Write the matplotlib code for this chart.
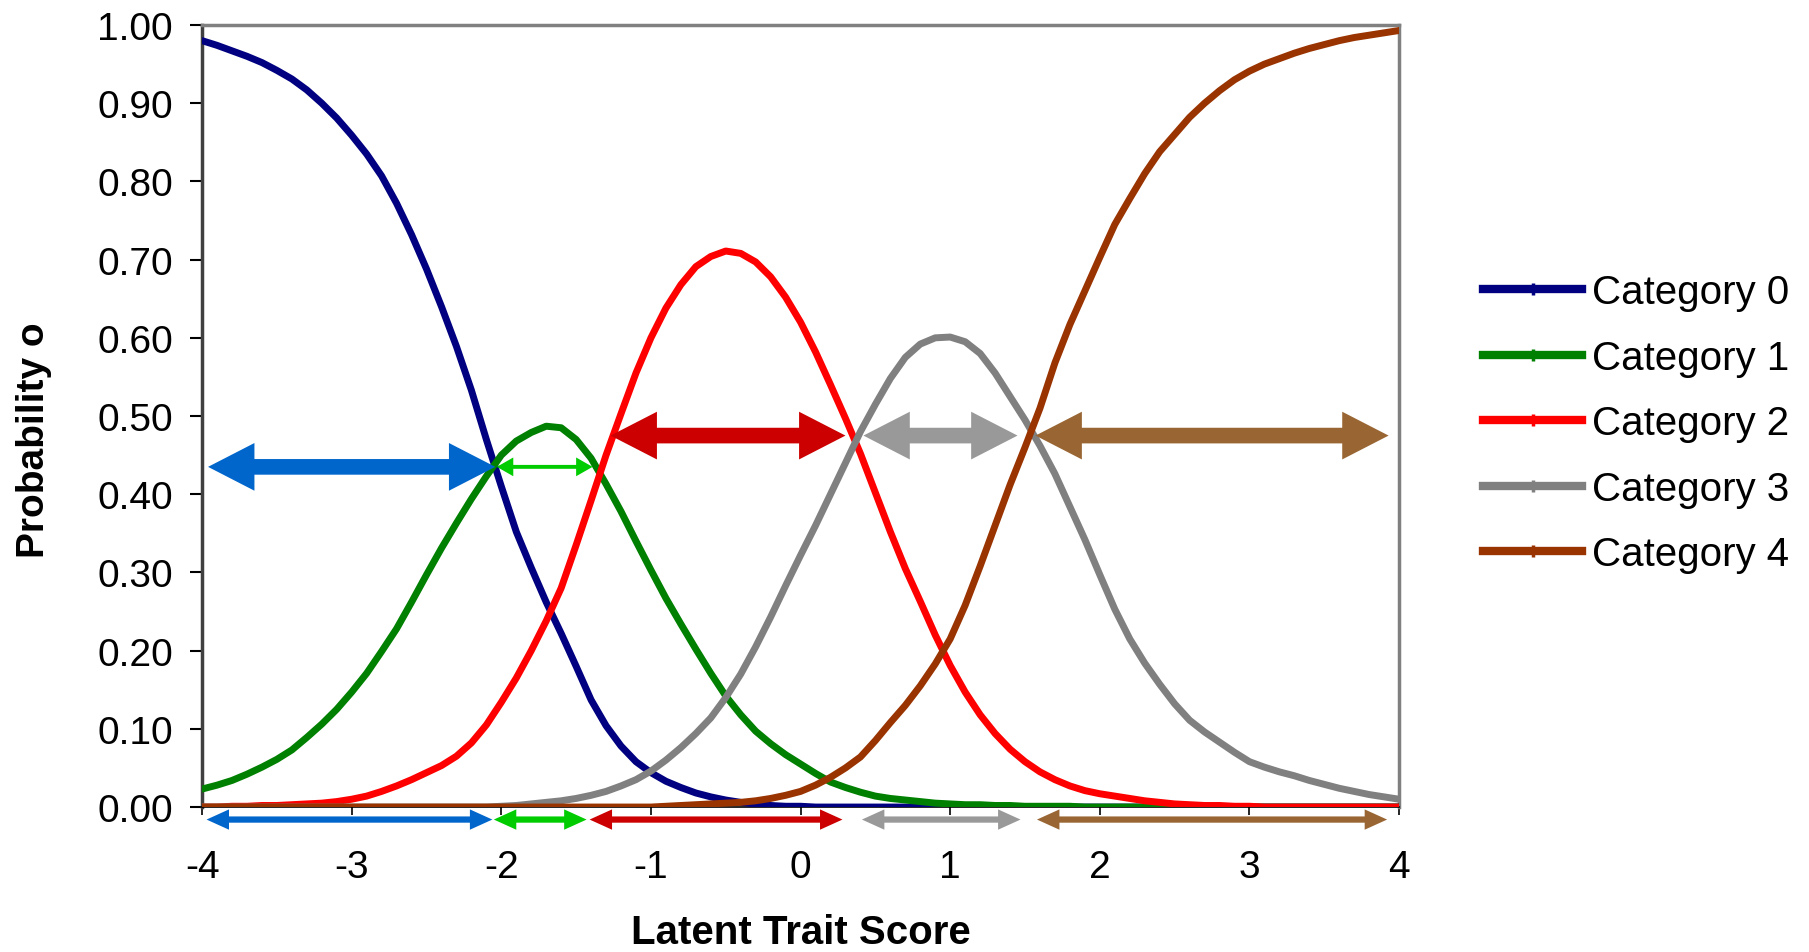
import matplotlib
matplotlib.use("Agg")
import matplotlib.pyplot as plt
from matplotlib.lines import Line2D
from matplotlib.patches import Polygon

plt.rcParams['font.family'] = ['Liberation Sans', 'DejaVu Sans']

# latent trait grid (step 0.1 from -4 to 4)
theta = [-4.0, -3.9, -3.8, -3.7, -3.6, -3.5, -3.4, -3.3, -3.2, -3.1,
         -3.0, -2.9, -2.8, -2.7, -2.6, -2.5, -2.4, -2.3, -2.2, -2.1,
         -2.0, -1.9, -1.8, -1.7, -1.6, -1.5, -1.4, -1.3, -1.2, -1.1,
         -1.0, -0.9, -0.8, -0.7, -0.6, -0.5, -0.4, -0.3, -0.2, -0.1,
         0.0, 0.1, 0.2, 0.3, 0.4, 0.5, 0.6, 0.7, 0.8, 0.9,
         1.0, 1.1, 1.2, 1.3, 1.4, 1.5, 1.6, 1.7, 1.8, 1.9,
         2.0, 2.1, 2.2, 2.3, 2.4, 2.5, 2.6, 2.7, 2.8, 2.9,
         3.0, 3.1, 3.2, 3.3, 3.4, 3.5, 3.6, 3.7, 3.8, 3.9, 4.0]

cat0 = [0.980, 0.974, 0.967, 0.960, 0.952, 0.942, 0.931, 0.917, 0.900, 0.881,
        0.859, 0.835, 0.807, 0.772, 0.732, 0.688, 0.640, 0.589, 0.533, 0.470,
        0.410, 0.352, 0.306, 0.262, 0.222, 0.180, 0.137, 0.104, 0.078, 0.058,
        0.044, 0.033, 0.025, 0.018, 0.013, 0.009, 0.006, 0.004, 0.002, 0.001,
        0.001, 0.0, 0.0, 0.0, 0.0, 0.0, 0.0, 0.0, 0.0, 0.0,
        0.0, 0.0, 0.0, 0.0, 0.0, 0.0, 0.0, 0.0, 0.0, 0.0,
        0.0, 0.0, 0.0, 0.0, 0.0, 0.0, 0.0, 0.0, 0.0, 0.0,
        0.0, 0.0, 0.0, 0.0, 0.0, 0.0, 0.0, 0.0, 0.0, 0.0, 0.0]
cat1 = [0.023, 0.028, 0.034, 0.042, 0.051, 0.061, 0.073, 0.089, 0.106, 0.125,
        0.147, 0.171, 0.199, 0.228, 0.262, 0.297, 0.331, 0.363, 0.394, 0.423,
        0.450, 0.468, 0.479, 0.487, 0.485, 0.470, 0.446, 0.413, 0.378, 0.340,
        0.303, 0.267, 0.234, 0.202, 0.171, 0.142, 0.118, 0.097, 0.081, 0.067,
        0.055, 0.043, 0.032, 0.025, 0.019, 0.014, 0.011, 0.009, 0.007, 0.005,
        0.004, 0.003, 0.003, 0.002, 0.002, 0.001, 0.001, 0.001, 0.001, 0.0,
        0.0, 0.0, 0.0, 0.0, 0.0, 0.0, 0.0, 0.0, 0.0, 0.0,
        0.0, 0.0, 0.0, 0.0, 0.0, 0.0, 0.0, 0.0, 0.0, 0.0, 0.0]
cat2 = [0.000, 0.000, 0.001, 0.001, 0.002, 0.002, 0.003, 0.004, 0.005, 0.007,
        0.010, 0.014, 0.020, 0.027, 0.035, 0.044, 0.053, 0.065, 0.082, 0.105,
        0.134, 0.165, 0.200, 0.238, 0.280, 0.335, 0.392, 0.450, 0.503, 0.555,
        0.600, 0.638, 0.668, 0.691, 0.704, 0.711, 0.708, 0.697, 0.678, 0.652,
        0.620, 0.582, 0.540, 0.497, 0.452, 0.402, 0.352, 0.305, 0.263, 0.220,
        0.181, 0.147, 0.118, 0.094, 0.074, 0.058, 0.045, 0.035, 0.027, 0.021,
        0.017, 0.014, 0.011, 0.008, 0.006, 0.004, 0.003, 0.002, 0.002, 0.001,
        0.001, 0.0, 0.0, 0.0, 0.0, 0.0, 0.0, 0.0, 0.0, 0.0, 0.0]
cat3 = [0.0, 0.0, 0.0, 0.0, 0.0, 0.0, 0.0, 0.0, 0.0, 0.0,
        0.0, 0.0, 0.0, 0.0, 0.0, 0.0, 0.0, 0.0, 0.0, 0.0,
        0.001, 0.002, 0.004, 0.006, 0.008, 0.011, 0.015, 0.020, 0.027, 0.035,
        0.046, 0.060, 0.076, 0.094, 0.114, 0.140, 0.170, 0.205, 0.243, 0.283,
        0.322, 0.360, 0.400, 0.440, 0.480, 0.515, 0.548, 0.575, 0.592, 0.600,
        0.601, 0.595, 0.580, 0.555, 0.525, 0.495, 0.462, 0.426, 0.384, 0.342,
        0.297, 0.253, 0.215, 0.184, 0.157, 0.132, 0.111, 0.096, 0.083, 0.070,
        0.058, 0.051, 0.045, 0.040, 0.034, 0.029, 0.024, 0.020, 0.016, 0.013, 0.010]
cat4 = [0.0, 0.0, 0.0, 0.0, 0.0, 0.0, 0.0, 0.0, 0.0, 0.0,
        0.0, 0.0, 0.0, 0.0, 0.0, 0.0, 0.0, 0.0, 0.0, 0.0,
        0.0, 0.0, 0.0, 0.0, 0.0, 0.0, 0.0, 0.0, 0.0, 0.0,
        0.0, 0.001, 0.002, 0.003, 0.004, 0.005, 0.006, 0.008, 0.011, 0.015,
        0.020, 0.028, 0.038, 0.050, 0.064, 0.085, 0.108, 0.130, 0.155, 0.183,
        0.215, 0.258, 0.308, 0.360, 0.412, 0.460, 0.510, 0.568, 0.617, 0.660,
        0.703, 0.745, 0.778, 0.810, 0.838, 0.860, 0.882, 0.900, 0.916, 0.930,
        0.941, 0.950, 0.957, 0.964, 0.970, 0.975, 0.980, 0.984, 0.987, 0.990, 0.993]

series = [cat0, cat1, cat2, cat3, cat4]
labels = ['Category 0', 'Category 1', 'Category 2', 'Category 3', 'Category 4']
line_colors = ['#000080', '#008000', '#FF0000', '#808080', '#993300']

# double arrows marking where each category is most likely
arrow_starts = [-3.96, -2.03, -1.27, 0.42, 1.57]
arrow_ends = [-2.04, -1.39, 0.30, 1.45, 3.93]
arrow_levels = [0.435, 0.435, 0.475, 0.475, 0.475]
arrow_big = [True, False, True, True, True]
arrow_colors = ['#0066CC', '#00CC00', '#CC0000', '#999999', '#996633']

# thin copies under the x axis
low_starts = [-3.97, -2.05, -1.41, 0.41, 1.58]
low_ends = [-2.06, -1.43, 0.28, 1.47, 3.92]
low_level = -0.016

fig = plt.figure(figsize=(18.09, 9.53), dpi=100)
ax = fig.add_axes([0.1117, 0.1521, 0.6617, 0.8206])

for values, color in zip(series, line_colors):
    ax.plot(theta, values, color=color, linewidth=5, solid_capstyle='round',
            solid_joinstyle='round', zorder=3)


def double_arrow(x0, x1, y, color, shaft, head_w, head_l, clip=True):
    # one polygon with a head at each end; widths in y units, head length in x units
    s, h = shaft / 2, head_w / 2
    pts = [(x0, y), (x0 + head_l, y + h), (x0 + head_l, y + s), (x1 - head_l, y + s),
           (x1 - head_l, y + h), (x1, y), (x1 - head_l, y - h), (x1 - head_l, y - s),
           (x0 + head_l, y - s), (x0 + head_l, y - h)]
    arr = Polygon(pts, closed=True, facecolor=color, edgecolor='none', zorder=5)
    arr.set_clip_on(clip)
    ax.add_patch(arr)


for x0, x1, y, big, color in zip(arrow_starts, arrow_ends, arrow_levels, arrow_big, arrow_colors):
    if big:
        double_arrow(x0, x1, y, color, 0.020, 0.061, 0.31)
    else:
        double_arrow(x0, x1, y, color, 0.005, 0.024, 0.11)

for x0, x1, color in zip(low_starts, low_ends, arrow_colors):
    double_arrow(x0, x1, low_level, color, 0.008, 0.026, 0.15, clip=False)

ax.set_xlim(-4, 4)
ax.set_ylim(0, 1)
ax.set_xticks([-4, -3, -2, -1, 0, 1, 2, 3, 4])
ax.set_xticklabels(['-4', '-3', '-2', '-1', '0', '1', '2', '3', '4'])
ax.set_yticks([i / 10 for i in range(11)])
ax.set_yticklabels(['%.2f' % (i / 10) for i in range(11)])

ax.tick_params(axis='y', direction='out', length=9, width=1.5, pad=12, labelsize=28, colors='black')
ax.tick_params(axis='x', direction='out', length=6, width=1.2, pad=24, labelsize=28)

for side in ['top', 'right']:
    ax.spines[side].set_color('#808080')
    ax.spines[side].set_linewidth(2.5)
ax.spines['left'].set_color('#404040')
ax.spines['left'].set_linewidth(2.5)
ax.spines['bottom'].set_color('black')
ax.spines['bottom'].set_linewidth(1.2)

ax.set_xlabel('Latent Trait Score', fontsize=29, fontweight='bold')
ax.xaxis.set_label_coords(0.5, -0.135)
ax.set_ylabel('Probability o', fontsize=28, fontweight='bold')
ax.yaxis.set_label_coords(-0.125, 0.47)

handles = [Line2D([], [], color=c, linewidth=6, marker='|', markersize=9, markeredgewidth=2.5)
           for c in line_colors]
fig.legend(handles, labels, loc='upper left', bbox_to_anchor=(0.8198, 0.712),
           frameon=False, fontsize=29, handlelength=2.46, handletextpad=0.25,
           labelspacing=0.68, borderpad=0, borderaxespad=0)

fig.savefig('out.png', dpi=100)
